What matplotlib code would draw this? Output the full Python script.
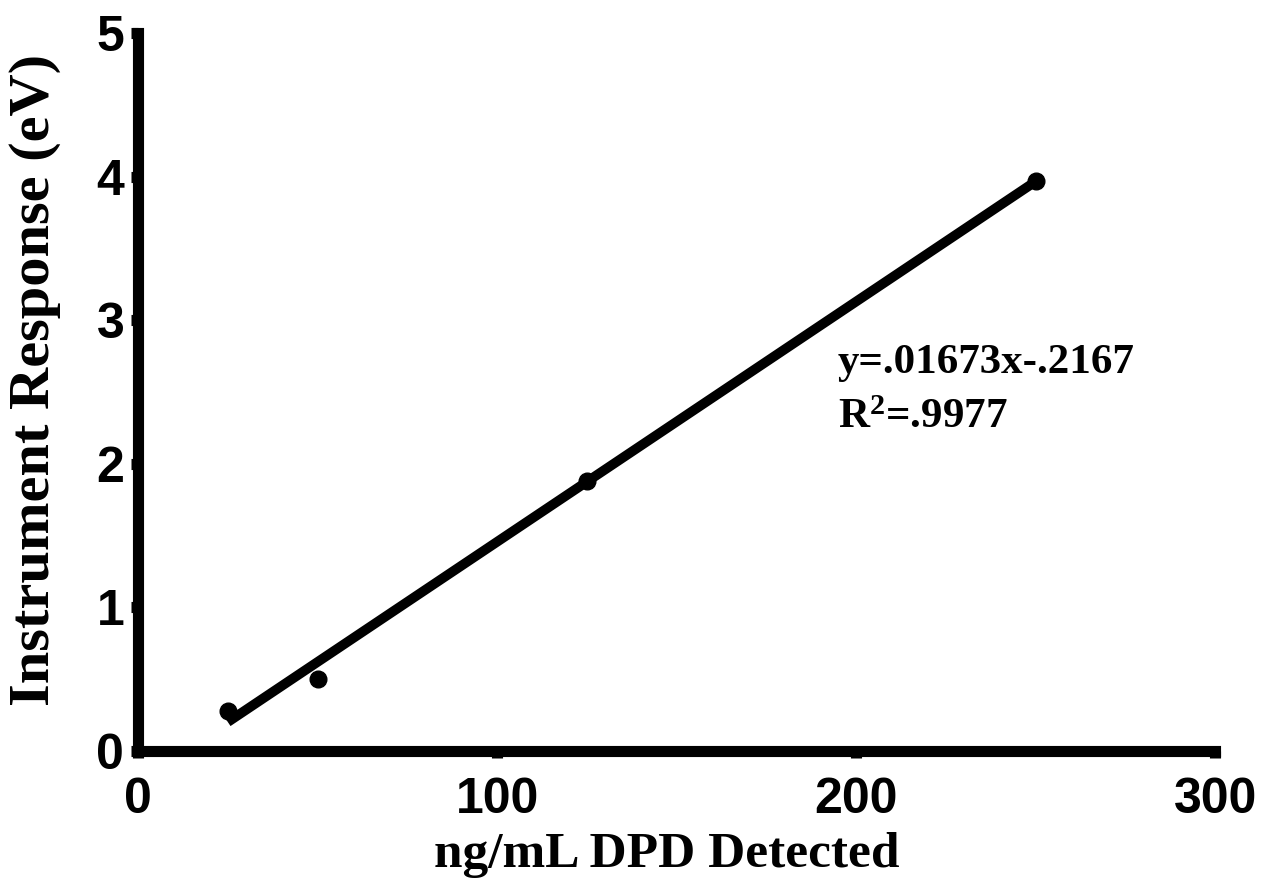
import numpy as np
import matplotlib.pyplot as plt

plt.rcParams['mathtext.fontset'] = 'custom'
plt.rcParams['mathtext.rm'] = 'Liberation Serif:bold'
plt.rcParams['mathtext.default'] = 'rm'

# calibration data
conc = [25, 50, 125, 250]
resp = [0.28, 0.50, 1.88, 3.97]
slope = 0.01673
icept = -0.2167
x_ticks = [0, 100, 200, 300]
y_ticks = [0, 1, 2, 3, 4, 5]

fig = plt.figure(figsize=(12.62, 8.84), dpi=100)
ax = fig.add_axes([0.1094, 0.1505, 0.8534, 0.8122])

xfit = np.array([conc[0], conc[-1]])
ax.plot(xfit, slope*xfit + icept, color='k', lw=7, solid_capstyle='butt', zorder=2)
ax.plot(conc, resp, 'o', color='k', ms=12, zorder=3)

ax.set_xlim(0, 300)
ax.set_ylim(0, 5)
ax.set_xticks(x_ticks)
ax.set_yticks(y_ticks)

for s in ['top', 'right']:
    ax.spines[s].set_visible(False)
for s in ['left', 'bottom']:
    ax.spines[s].set_linewidth(8)
    ax.spines[s].set_capstyle('projecting')
ax.tick_params(width=8, length=5, direction='out')
ax.tick_params(axis='x', pad=14)
ax.tick_params(axis='y', pad=5)
for lab in ax.get_xticklabels() + ax.get_yticklabels():
    lab.set_fontfamily('Liberation Sans')
    lab.set_fontweight('bold')
    lab.set_fontsize(36)

ax.set_xlabel('ng/mL DPD Detected', family='Liberation Serif', weight='bold',
              fontsize=37)
ax.set_ylabel('Instrument Response (eV)', family='Liberation Serif', weight='bold',
              fontsize=42)
ax.xaxis.set_label_coords(0.491, -0.113)
ax.yaxis.set_label_coords(-0.072, 0.517)

ax.text(195, 2.632, 'y=.01673x-.2167', family='Liberation Serif',
        weight='bold', fontsize=31, va='baseline', ha='left')
ax.text(195, 2.249, 'R$^{2}$=.9977', family='Liberation Serif',
        weight='bold', fontsize=31, va='baseline', ha='left')

fig.savefig('out.png', dpi=100)
